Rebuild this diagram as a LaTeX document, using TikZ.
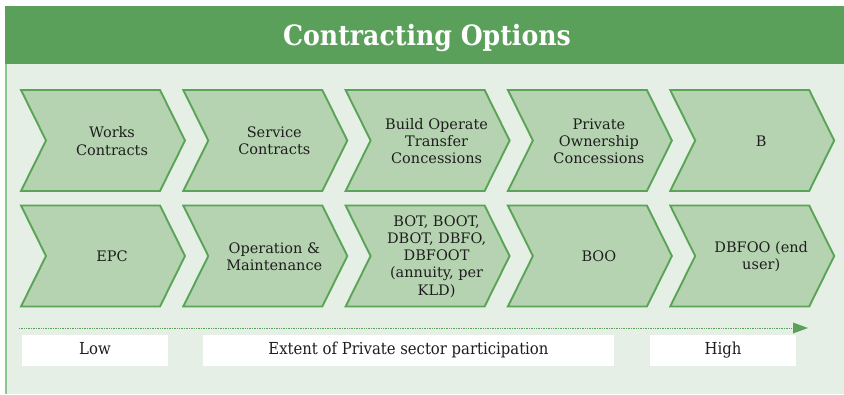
\documentclass[tikz,border=0pt]{standalone}
\usepackage{fontspec}
\setmainfont{DejaVu Serif}
\newfontfamily\condserif{DejaVu Serif Condensed}
\usepackage{tikz}
\usetikzlibrary{arrows.meta}
\definecolor{bargreen}{HTML}{5AA05A}
\definecolor{pagegreen}{HTML}{E5EFE6}
\definecolor{edgegreen}{HTML}{8CC68A}
\definecolor{chevfill}{HTML}{B6D3B1}
\definecolor{chevline}{HTML}{5AA457}
\definecolor{inkdark}{HTML}{1E1E1E}
\tikzset{>={Triangle[width=11pt,length=15pt]}}

\begin{document}
\begin{tikzpicture}[x=1pt,y=-1pt,
	chev/.style={draw=chevline,fill=chevfill,line width=1.9pt},
	chevtext/.style={align=center,text=inkdark,font=\fontsize{14.5}{17.2}\selectfont},
	scalebox/.style={fill=white,minimum height=31pt,inner sep=0pt,text=inkdark,
		text height=12pt,text depth=3.5pt,font=\condserif\fontsize{16.5}{18}\selectfont}]
	\useasboundingbox (0,0) rectangle (844,394);
	\fill[white] (0,0) rectangle (844,394);
	\fill[pagegreen] (5,64) rectangle (844,394);
	\fill[bargreen] (5,6) rectangle (844,64);
	\draw[edgegreen,line width=1.5pt] (5.75,64) -- (5.75,394);
	\node[text=white,font=\condserif\bfseries\fontsize{28}{30}\selectfont] (title) at (427,37.5) {Contracting Options};
	\foreach \k/\toptxt/\bottxt in {1/{Works\\Contracts}/{EPC},
		2/{Service\\Contracts}/{Operation \&\\Maintenance},
		3/{Build Operate\\Transfer\\Concessions}/{BOT, BOOT,\\DBOT, DBFO,\\DBFOOT\\(annuity, per\\KLD)},
		4/{Private\\Ownership\\Concessions}/{BOO},
		5/{B}/{DBFOO (end\\user)}}
	   {\pgfmathsetmacro{\xo}{21+162.3*(\k-1)}
		\draw[chev] (\xo,90) -- ++(139,0) -- ++(25,50.5) -- ++(-25,50.5) -- ++(-139,0) -- ++(25,-50.5) -- cycle;
		\draw[chev] (\xo,205.5) -- ++(139,0) -- ++(25,50.5) -- ++(-25,50.5) -- ++(-139,0) -- ++(25,-50.5) -- cycle;
		\node[chevtext] (top\k) at (\xo+91,141) {\toptxt};
		\node[chevtext] (bot\k) at (\xo+91,256.5) {\bottxt};
	}
	\coordinate (lo) at (19,328);
	\coordinate (hi) at (808,328);
	\draw[bargreen,line width=0.7pt,densely dotted,-{>[line width=0pt,sep=0pt]}] (lo) -- (hi);
	\node[scalebox,minimum width=146pt] (low) at (95,350.5) {Low};
	\node[scalebox,minimum width=411pt] (extent) at (408.5,350.5) {Extent of Private sector participation};
	\node[scalebox,minimum width=146pt] (high) at (723,350.5) {High};
\end{tikzpicture}
\end{document}
